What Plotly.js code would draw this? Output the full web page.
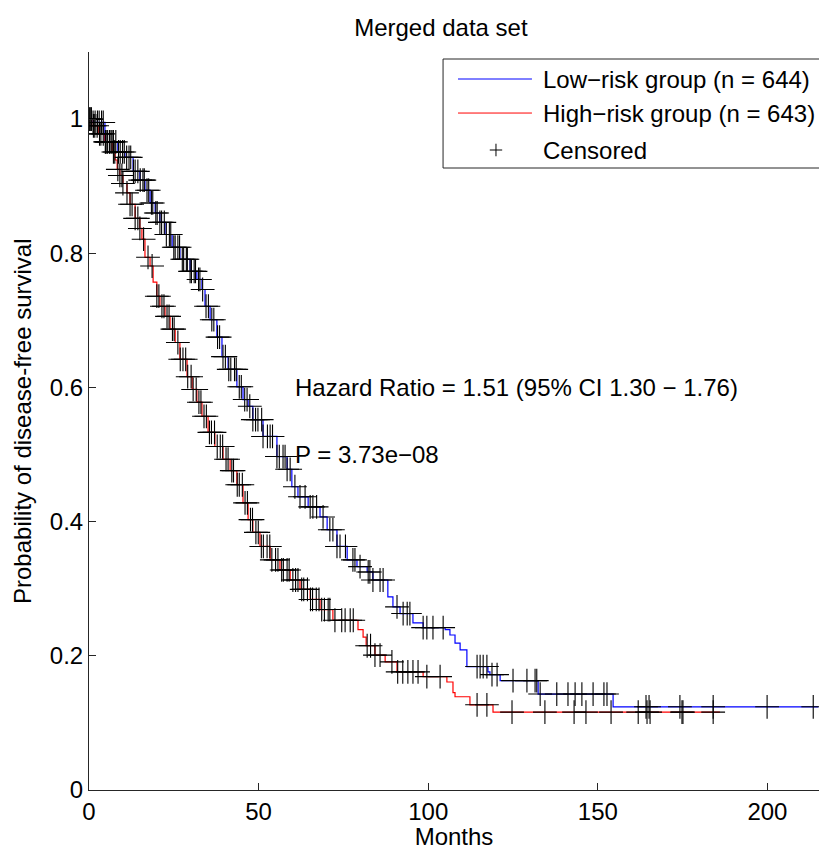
<!DOCTYPE html>
<html>
<head>
<meta charset="utf-8">
<script src="https://cdn.plot.ly/plotly-3.0.1.min.js"></script>
<style>html,body{margin:0;padding:0;background:#fff;}</style>
</head>
<body>
<div id="chart" style="width:819px;height:850px;"></div>
<script>
// Kaplan-Meier step curves (months, survival probability)
const lowMonths = [0, 0.8, 4.7, 8.5, 10.6, 13.0, 15.0, 16.5, 18.0, 19.5, 20.9, 22.4, 24.5, 26.8, 29.8, 31.8, 33.3, 34.2, 35.7, 37.7, 39.2, 41.0, 43.6, 45.4, 46.9, 48.3, 51.3, 55.4, 58.4, 59.8, 61.6, 64.6, 68.1, 70.2, 73.1, 76.1, 79.0, 82.0, 83.7, 88.1, 89.6, 91.7, 95.5, 98.5, 105.0, 106.4, 107.9, 109.4, 111.4, 117.6, 118.2, 121.2, 132.4, 154.5, 215];
const lowSurv = [1.000, 0.995, 0.966, 0.951, 0.943, 0.922, 0.909, 0.894, 0.875, 0.860, 0.846, 0.828, 0.809, 0.791, 0.773, 0.761, 0.746, 0.721, 0.701, 0.675, 0.646, 0.627, 0.601, 0.582, 0.572, 0.552, 0.527, 0.497, 0.478, 0.452, 0.437, 0.422, 0.407, 0.388, 0.363, 0.343, 0.333, 0.325, 0.313, 0.288, 0.273, 0.263, 0.249, 0.242, 0.239, 0.231, 0.219, 0.209, 0.184, 0.176, 0.172, 0.163, 0.143, 0.124, 0.124];

const highMonths = [0, 0.8, 2.7, 4.7, 6.8, 7.7, 8.3, 9.1, 10.0, 11.2, 12.1, 13.6, 15.0, 15.6, 16.5, 18.0, 18.9, 20.0, 20.9, 22.4, 23.9, 25.4, 26.8, 28.9, 30.4, 31.8, 33.3, 35.1, 37.1, 39.5, 41.6, 43.6, 45.4, 46.9, 48.3, 50.4, 53.4, 56.3, 59.3, 62.2, 65.2, 68.1, 71.9, 79.3, 80.8, 81.7, 84.3, 87.3, 90.8, 98.5, 105.5, 107.3, 107.9, 112.3, 119.1, 186];
const highSurv = [1.000, 0.990, 0.978, 0.966, 0.951, 0.939, 0.925, 0.916, 0.904, 0.890, 0.873, 0.852, 0.837, 0.821, 0.794, 0.781, 0.757, 0.736, 0.721, 0.706, 0.687, 0.667, 0.642, 0.616, 0.597, 0.578, 0.557, 0.533, 0.512, 0.493, 0.476, 0.455, 0.428, 0.403, 0.384, 0.363, 0.343, 0.328, 0.313, 0.299, 0.284, 0.269, 0.253, 0.239, 0.228, 0.215, 0.201, 0.191, 0.176, 0.169, 0.161, 0.145, 0.139, 0.127, 0.116, 0.116];

// Censoring times (months)
const lowCensored = [0.3, 0.7, 1.2, 1.8, 2.5, 3.0, 3.7, 4.2, 4.9, 5.4, 6.1, 6.8, 7.2, 7.9, 8.7, 9.2, 9.9, 10.4, 11.1, 11.8, 12.3, 13.1, 13.6, 14.4, 15.1, 15.9, 16.3, 17.1, 17.6, 18.4, 18.8, 19.7, 20.1, 20.9, 21.4, 22.2, 22.8, 23.7, 24.1, 25.0, 25.4, 26.2, 26.7, 27.5, 27.9, 28.7, 29.0, 29.8, 30.2, 31.0, 31.4, 32.3, 32.7, 33.5, 34.5, 35.2, 36.2, 36.8, 37.9, 38.5, 39.5, 40.2, 41.2, 41.8, 42.9, 43.4, 44.3, 44.9, 45.9, 46.6, 47.4, 48.3, 49.1, 49.8, 50.9, 51.3, 52.6, 53.4, 54.1, 55.4, 56.1, 57.2, 57.8, 58.4, 59.3, 60.7, 62.2, 63.7, 65.2, 66.0, 67.1, 69.0, 71.0, 71.9, 73.1, 74.0, 75.6, 77.8, 78.4, 79.9, 82.3, 82.8, 83.7, 85.8, 86.7, 90.8, 92.6, 93.8, 94.6, 98.5, 99.6, 101.4, 104.4, 114.4, 115.3, 116.2, 117.3, 118.8, 120.3, 125.0, 129.1, 131.5, 132.0, 133.0, 137.9, 141.2, 143.3, 145.3, 148.6, 151.8, 152.7, 164.2, 165.1, 174.2, 184.0, 199.9, 213.5];

const highCensored = [0.2, 0.6, 1.3, 1.7, 2.4, 3.1, 3.5, 4.2, 4.8, 5.3, 6.0, 6.5, 7.2, 7.6, 8.5, 9.1, 9.7, 10.0, 11.2, 12.1, 12.7, 13.6, 14.4, 15.0, 16.1, 17.4, 18.6, 20.0, 20.6, 21.5, 22.1, 23.0, 23.6, 24.6, 25.1, 26.2, 26.9, 27.7, 28.5, 29.1, 30.1, 30.7, 31.6, 32.4, 33.0, 33.9, 34.6, 35.5, 36.1, 37.0, 37.8, 38.7, 39.4, 40.4, 41.0, 42.1, 42.6, 43.7, 44.3, 45.2, 46.0, 46.7, 47.6, 48.2, 49.2, 49.9, 50.8, 51.4, 52.5, 53.3, 53.9, 55.0, 55.7, 56.8, 57.3, 58.4, 59.0, 60.1, 60.9, 61.6, 62.7, 63.3, 64.4, 65.3, 65.9, 67.0, 67.8, 68.6, 69.4, 70.5, 71.0, 72.5, 74.5, 75.5, 77.0, 77.9, 82.0, 83.0, 84.3, 85.8, 89.3, 91.0, 92.5, 94.0, 95.5, 97.0, 99.6, 103.5, 114.4, 117.3, 124.7, 134.4, 143.0, 146.5, 153.9, 161.9, 164.5, 165.4, 174.8, 175.1, 184.0];

const tickMonths = [0, 50, 100, 150, 200];
const tickProb = [0, 0.2, 0.4, 0.6, 0.8, 1];
const tickProbLabels = ['0', '0.2', '0.4', '0.6', '0.8', '1'];

const legendLabels = ['Low\u2212risk group (n = 644)', 'High\u2212risk group (n = 643)', 'Censored'];
const hrText = 'Hazard Ratio = 1.51 (95% CI 1.30 \u2212 1.76)';
const pText = 'P = 3.73e\u221208';
const yTitle = 'Probability of disease-free survival';

function survAt(times, surv, t) {
  let v = surv[0];
  for (let i = 0; i < times.length; i++) { if (times[i] <= t) v = surv[i]; else break; }
  return v;
}

const FONT = 'Liberation Sans, Arial, Helvetica, sans-serif';
const FS = 24;
const censorMarker = {symbol: 'cross-thin', size: 17, color: '#000', line: {color: '#000', width: 1.1}};

const traces = [
  {x: lowMonths, y: lowSurv, type: 'scatter', mode: 'lines', line: {shape: 'hv', color: '#0000ff', width: 1.2}, name: legendLabels[0], showlegend: false},
  {x: highMonths, y: highSurv, type: 'scatter', mode: 'lines', line: {shape: 'hv', color: '#ff0000', width: 1.2}, name: legendLabels[1], showlegend: false},
  {x: lowCensored, y: lowCensored.map(t => survAt(lowMonths, lowSurv, t)), type: 'scatter', mode: 'markers', marker: censorMarker, name: legendLabels[2], showlegend: false},
  {x: highCensored, y: highCensored.map(t => survAt(highMonths, highSurv, t)), type: 'scatter', mode: 'markers', marker: censorMarker, name: legendLabels[2], showlegend: false}
];

// custom legend box (paper coordinates)
const lgX0 = 0.485, lgX1 = 1.02, lgY0 = 0.8428, lgY1 = 0.9905;
const rowY = [0.9634, 0.9173, 0.8672];
const sampleX0 = 0.5055, sampleX1 = 0.6068, textX = 0.619, crossX = 0.5575;

const shapes = [
  {type: 'rect', xref: 'paper', yref: 'paper', x0: lgX0, x1: lgX1, y0: lgY0, y1: lgY1, line: {color: '#262626', width: 1}, fillcolor: 'rgba(255,255,255,1)', layer: 'above'},
  {type: 'line', xref: 'paper', yref: 'paper', x0: sampleX0, x1: sampleX1, y0: rowY[0], y1: rowY[0], line: {color: '#0000ff', width: 1}},
  {type: 'line', xref: 'paper', yref: 'paper', x0: sampleX0, x1: sampleX1, y0: rowY[1], y1: rowY[1], line: {color: '#ff0000', width: 1}},
  {type: 'line', xref: 'paper', yref: 'paper', x0: crossX - 0.0085, x1: crossX + 0.0085, y0: rowY[2], y1: rowY[2], line: {color: '#000', width: 1}},
  {type: 'line', xref: 'paper', yref: 'paper', x0: crossX, x1: crossX, y0: rowY[2] - 0.0085, y1: rowY[2] + 0.0085, line: {color: '#000', width: 1}}
];

const annotations = [
  {xref: 'x', yref: 'y', x: 60, y: 0.6, text: hrText, showarrow: false, xanchor: 'left', yanchor: 'middle', font: {family: FONT, size: FS, color: '#000'}},
  {xref: 'x', yref: 'y', x: 60, y: 0.5, text: pText, showarrow: false, xanchor: 'left', yanchor: 'middle', font: {family: FONT, size: FS, color: '#000'}},
  {xref: 'paper', yref: 'paper', x: -0.0918, y: 0.5, text: yTitle, textangle: -90, showarrow: false, xanchor: 'center', yanchor: 'middle', font: {family: FONT, size: FS, color: '#000'}}
];
legendLabels.forEach((lab, i) => annotations.push({xref: 'paper', yref: 'paper', x: textX, y: rowY[i], text: lab, showarrow: false, xanchor: 'left', yanchor: 'middle', font: {family: FONT, size: FS, color: '#000'}}));

const layout = {
  width: 819, height: 850,
  margin: {l: 89, r: 0, t: 52, b: 60},
  paper_bgcolor: '#fff', plot_bgcolor: '#fff',
  font: {family: FONT, size: FS, color: '#000'},
  title: {text: 'Merged data set', xref: 'paper', x: 0.482, xanchor: 'center', yref: 'container', y: 0.967, yanchor: 'middle', font: {family: FONT, size: FS, color: '#000'}},
  showlegend: false,
  xaxis: {
    range: [0, 215.2], tickvals: tickMonths, ticktext: tickMonths.map(String),
    ticks: 'inside', ticklen: 7, tickwidth: 1, tickcolor: '#262626',
    showline: true, linecolor: '#262626', linewidth: 1, mirror: false,
    showgrid: false, zeroline: false,
    tickfont: {family: FONT, size: FS, color: '#000'},
    title: {text: 'Months', font: {family: FONT, size: FS, color: '#000'}, standoff: 2},
    automargin: false
  },
  yaxis: {
    range: [0, 1.1], tickvals: tickProb, ticktext: tickProbLabels,
    ticks: 'inside', ticklen: 7, tickwidth: 1, tickcolor: '#262626',
    showline: true, linecolor: '#262626', linewidth: 1, mirror: false,
    showgrid: false, zeroline: false,
    tickfont: {family: FONT, size: FS, color: '#000'},
    automargin: false
  },
  shapes: shapes,
  annotations: annotations
};

Plotly.newPlot('chart', traces, layout, {staticPlot: true, displayModeBar: false});
</script>
</body>
</html>
